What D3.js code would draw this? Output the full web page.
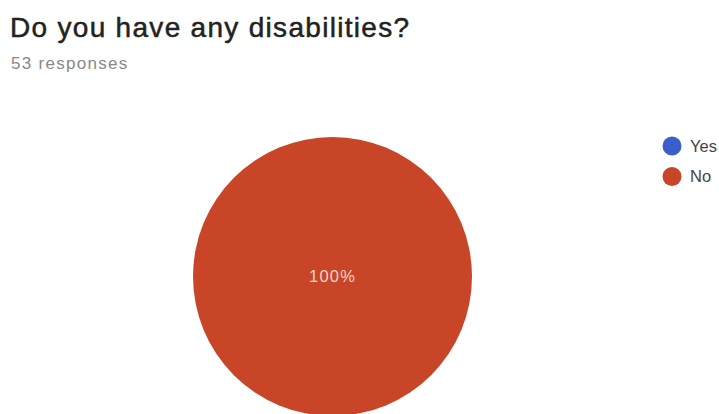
<!DOCTYPE html>
<html>
<head>
<meta charset="utf-8">
<script src="https://cdn.jsdelivr.net/npm/d3@7"></script>
<style>
  body { margin: 0; background: #fff; }
  svg { display: block; font-family: "Liberation Sans", Arial, sans-serif; }
</style>
</head>
<body>
<div class="chart"></div>
<script>
const width = 719;
const height = 414;

const categories = ["Yes", "No"];
const counts = [0, 53];
const colors = ["#3a5fcd", "#c94527"];

const total = d3.sum(counts);

const svg = d3.select(".chart")
  .append("svg")
  .attr("width", width)
  .attr("height", height);

svg.append("text")
  .attr("x", 10)
  .attr("y", 37)
  .attr("font-size", 28)
  .attr("letter-spacing", 1.3)
  .attr("fill", "#222")
  .attr("stroke", "#222")
  .attr("stroke-width", 0.5)
  .text("Do you have any disabilities?");

svg.append("text")
  .attr("x", 11)
  .attr("y", 68.5)
  .attr("font-size", 17)
  .attr("letter-spacing", 1.3)
  .attr("fill", "#888")
  .text(total + " responses");

const cx = 332.5, cy = 276.5, radius = 139.5;

const pie = d3.pie().sort(null).value(d => d.value);
const arc = d3.arc().innerRadius(0).outerRadius(radius);

const data = categories.map((c, i) => ({ name: c, value: counts[i], color: colors[i] }));

const g = svg.append("g").attr("transform", `translate(${cx},${cy})`);

g.selectAll("path")
  .data(pie(data).filter(d => d.data.value > 0))
  .join("path")
  .attr("d", arc)
  .attr("fill", d => d.data.color);

g.selectAll("text.pct")
  .data(pie(data).filter(d => d.data.value > 0))
  .join("text")
  .attr("class", "pct")
  .attr("transform", d => {
    // a full slice gets its label in the centre
    if (d.endAngle - d.startAngle >= 2 * Math.PI - 1e-6) return "translate(0,0)";
    return `translate(${d3.arc().innerRadius(radius * 0.6).outerRadius(radius * 0.6).centroid(d)})`;
  })
  .attr("text-anchor", "middle")
  .attr("dy", "0.35em")
  .attr("font-size", 16.5)
  .attr("letter-spacing", 1.2)
  .attr("fill", "#f2d3ca")
  .text(d => d3.format(".0%")(d.data.value / total));

const legend = svg.append("g")
  .selectAll("g")
  .data(data)
  .join("g")
  .attr("transform", (d, i) => `translate(672,${146 + i * 30.5})`);

legend.append("circle")
  .attr("r", 9.5)
  .attr("fill", d => d.color);

legend.append("text")
  .attr("x", 18)
  .attr("dy", "0.36em")
  .attr("font-size", 16.5)
  .attr("fill", "#444")
  .text(d => d.name);
</script>
</body>
</html>
